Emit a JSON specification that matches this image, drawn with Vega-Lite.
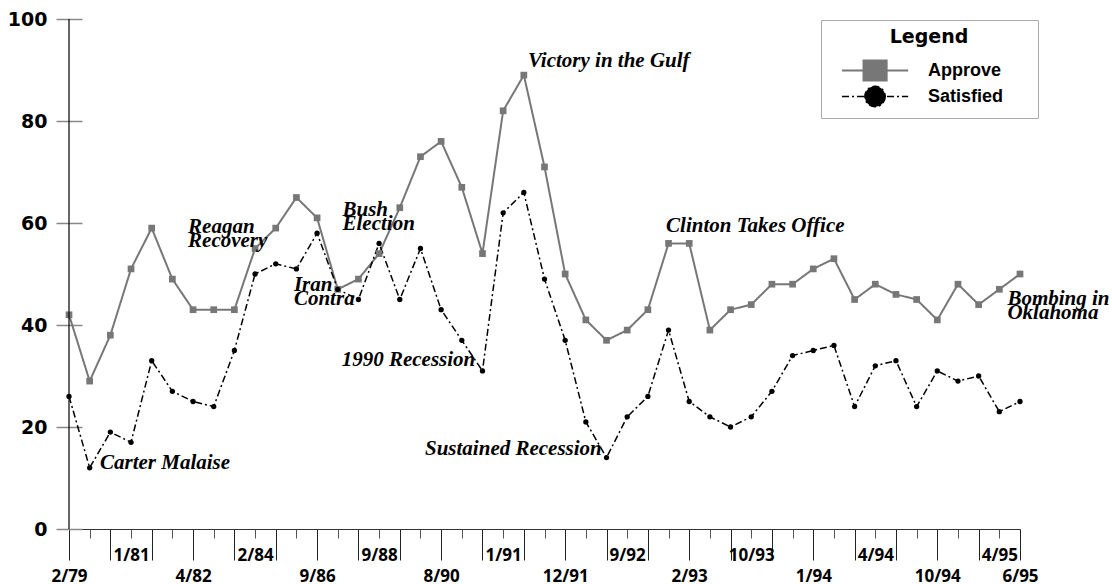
{
  "$schema": "https://vega.github.io/schema/vega-lite/v6.json",
  "width": 951,
  "height": 510,
  "autosize": {"type": "none"},
  "padding": {"left": 69, "top": 19, "right": 92, "bottom": 55},
  "background": "white",
  "config": {"view": {"stroke": null}, "axis": {"grid": false}},
  "resolve": {"axis": {"x": "independent", "y": "independent"}},
  "datasets": {
    "series": [
      {"i":0,"s":"Approve","v":42},{"i":1,"s":"Approve","v":29},{"i":2,"s":"Approve","v":38},{"i":3,"s":"Approve","v":51},{"i":4,"s":"Approve","v":59},{"i":5,"s":"Approve","v":49},{"i":6,"s":"Approve","v":43},{"i":7,"s":"Approve","v":43},{"i":8,"s":"Approve","v":43},{"i":9,"s":"Approve","v":55},{"i":10,"s":"Approve","v":59},{"i":11,"s":"Approve","v":65},{"i":12,"s":"Approve","v":61},{"i":13,"s":"Approve","v":47},{"i":14,"s":"Approve","v":49},{"i":15,"s":"Approve","v":54},{"i":16,"s":"Approve","v":63},{"i":17,"s":"Approve","v":73},{"i":18,"s":"Approve","v":76},{"i":19,"s":"Approve","v":67},{"i":20,"s":"Approve","v":54},{"i":21,"s":"Approve","v":82},{"i":22,"s":"Approve","v":89},{"i":23,"s":"Approve","v":71},{"i":24,"s":"Approve","v":50},{"i":25,"s":"Approve","v":41},{"i":26,"s":"Approve","v":37},{"i":27,"s":"Approve","v":39},{"i":28,"s":"Approve","v":43},{"i":29,"s":"Approve","v":56},{"i":30,"s":"Approve","v":56},{"i":31,"s":"Approve","v":39},{"i":32,"s":"Approve","v":43},{"i":33,"s":"Approve","v":44},{"i":34,"s":"Approve","v":48},{"i":35,"s":"Approve","v":48},{"i":36,"s":"Approve","v":51},{"i":37,"s":"Approve","v":53},{"i":38,"s":"Approve","v":45},{"i":39,"s":"Approve","v":48},{"i":40,"s":"Approve","v":46},{"i":41,"s":"Approve","v":45},{"i":42,"s":"Approve","v":41},{"i":43,"s":"Approve","v":48},{"i":44,"s":"Approve","v":44},{"i":45,"s":"Approve","v":47},{"i":46,"s":"Approve","v":50},
      {"i":0,"s":"Satisfied","v":26},{"i":1,"s":"Satisfied","v":12},{"i":2,"s":"Satisfied","v":19},{"i":3,"s":"Satisfied","v":17},{"i":4,"s":"Satisfied","v":33},{"i":5,"s":"Satisfied","v":27},{"i":6,"s":"Satisfied","v":25},{"i":7,"s":"Satisfied","v":24},{"i":8,"s":"Satisfied","v":35},{"i":9,"s":"Satisfied","v":50},{"i":10,"s":"Satisfied","v":52},{"i":11,"s":"Satisfied","v":51},{"i":12,"s":"Satisfied","v":58},{"i":13,"s":"Satisfied","v":47},{"i":14,"s":"Satisfied","v":45},{"i":15,"s":"Satisfied","v":56},{"i":16,"s":"Satisfied","v":45},{"i":17,"s":"Satisfied","v":55},{"i":18,"s":"Satisfied","v":43},{"i":19,"s":"Satisfied","v":37},{"i":20,"s":"Satisfied","v":31},{"i":21,"s":"Satisfied","v":62},{"i":22,"s":"Satisfied","v":66},{"i":23,"s":"Satisfied","v":49},{"i":24,"s":"Satisfied","v":37},{"i":25,"s":"Satisfied","v":21},{"i":26,"s":"Satisfied","v":14},{"i":27,"s":"Satisfied","v":22},{"i":28,"s":"Satisfied","v":26},{"i":29,"s":"Satisfied","v":39},{"i":30,"s":"Satisfied","v":25},{"i":31,"s":"Satisfied","v":22},{"i":32,"s":"Satisfied","v":20},{"i":33,"s":"Satisfied","v":22},{"i":34,"s":"Satisfied","v":27},{"i":35,"s":"Satisfied","v":34},{"i":36,"s":"Satisfied","v":35},{"i":37,"s":"Satisfied","v":36},{"i":38,"s":"Satisfied","v":24},{"i":39,"s":"Satisfied","v":32},{"i":40,"s":"Satisfied","v":33},{"i":41,"s":"Satisfied","v":24},{"i":42,"s":"Satisfied","v":31},{"i":43,"s":"Satisfied","v":29},{"i":44,"s":"Satisfied","v":30},{"i":45,"s":"Satisfied","v":23},{"i":46,"s":"Satisfied","v":25}
    ]
  },
  "layer": [
    {
      "data": {"name": "series"},
      "mark": {"type": "line"},
      "encoding": {
        "x": {"field": "i", "type": "quantitative",
          "scale": {"domain": [0, 46], "nice": false, "zero": false},
          "axis": {"orient": "bottom", "title": null, "grid": false,
            "values": [0,2,4,6,8,10,12,14,16,18,20,22,24,26,28,30,32,34,36,38,40,42,44,46],
            "tickSize": 31, "tickColor": "#222", "tickWidth": 1, "domainColor": "#333",
            "labelExpr": "datum.value % 6 === 0 ? ['2/79','4/82','9/86','8/90','12/91','2/93','1/94','10/94'][datum.value/6] : (datum.value === 46 ? '6/95' : '')",
            "labelFont": "Open Sans", "labelFontSize": 17, "labelFontWeight": "bold", "labelColor": "black",
            "labelPadding": 8, "labelOverlap": false, "labelFlush": false, "labelBound": false}},
        "y": {"field": "v", "type": "quantitative",
          "scale": {"domain": [0, 100], "nice": false},
          "axis": {"orient": "left", "title": null, "grid": false, "values": [0,20,40,60,80,100], "domain": false,
            "tickSize": 26, "offset": -13, "tickColor": "#888", "tickWidth": 1.5,
            "labelFont": "DejaVu Sans", "labelFontSize": 19, "labelFontWeight": "bold", "labelColor": "black", "labelPadding": 9}},
        "color": {"field": "s", "type": "nominal",
          "scale": {"domain": ["Approve", "Satisfied"], "range": ["#777777", "#000000"]},
          "legend": {
            "orient": "none", "legendX": 752, "legendY": 1,
            "title": "Legend", "titleFont": "DejaVu Sans", "titleFontSize": 19, "titleFontWeight": "bold", "titleColor": "black",
            "titleAnchor": "middle", "titlePadding": 12,
            "labelFont": "Liberation Sans", "labelFontSize": 18, "labelFontWeight": "bold", "labelColor": "black",
            "labelExpr": "datum.label + '\u2800\u2800'",
            "symbolSize": 256, "symbolOffset": 12, "labelOffset": 64, "rowPadding": -7,
            "padding": 8, "strokeColor": "#aaaaaa",
            "encode": {"symbols": {"update": {
              "size": {"value": 441},
              "shape": {"signal": "datum.value === 'Approve' ? 'M-1,0H5.3M1.05,-0.95H3.25V0.95H1.05Z' : 'M-1,0H5.3M3.12,0C3.12,0.536,2.686,0.97,2.15,0.97C1.614,0.97,1.18,0.536,1.18,0C1.18,-0.536,1.614,-0.97,2.15,-0.97C2.686,-0.97,3.12,-0.536,3.12,0Z'"},
              "fill": {"signal": "datum.value === 'Approve' ? '#777777' : '#000000'"},
              "strokeWidth": {"signal": "datum.value === 'Approve' ? 2 : 1.5"},
              "strokeDash": {"signal": "datum.value === 'Approve' ? [1,0] : [5,3,2,3]"},
              "opacity": {"value": 1}, "fillOpacity": {"value": 1}, "strokeOpacity": {"value": 1}
            }}}
          }},
        "strokeDash": {"field": "s", "type": "nominal",
          "scale": {"domain": ["Approve", "Satisfied"], "range": [[1, 0], [7, 3, 2, 3]]},
          "legend": null},
        "strokeWidth": {"field": "s", "type": "nominal",
          "scale": {"domain": ["Approve", "Satisfied"], "range": [2, 1.5]},
          "legend": null}
      }
    },
    {
      "data": {"name": "series"},
      "transform": [{"filter": "datum.s === 'Approve'"}],
      "mark": {"type": "point", "filled": true, "opacity": 1, "shape": "square", "size": 45, "color": "#777777"},
      "encoding": {
        "x": {"field": "i", "type": "quantitative",
          "scale": {"domain": [0, 46], "nice": false, "zero": false},
          "axis": {"orient": "bottom", "title": null, "grid": false, "domain": false,
            "values": [1,3,5,7,9,11,13,15,17,19,21,23,25,27,29,31,33,35,37,39,41,43,45],
            "tickSize": 9, "tickColor": "#555", "tickWidth": 1,
            "labelExpr": "(datum.value - 3) % 6 === 0 ? ['1/81','2/84','9/88','1/91','9/92','10/93','4/94','4/95'][(datum.value - 3)/6] : ''",
            "labelFont": "Open Sans", "labelFontSize": 17, "labelFontWeight": "bold", "labelColor": "black",
            "labelPadding": 9, "labelOverlap": false, "labelFlush": false, "labelBound": false}},
        "y": {"field": "v", "type": "quantitative", "scale": {"domain": [0, 100], "nice": false}, "axis": null}
      }
    },
    {
      "data": {"name": "series"},
      "transform": [{"filter": "datum.s === 'Satisfied'"}],
      "mark": {"type": "point", "filled": true, "opacity": 1, "shape": "circle", "size": 28, "color": "#000000"},
      "encoding": {
        "x": {"field": "i", "type": "quantitative", "axis": null},
        "y": {"field": "v", "type": "quantitative", "axis": null}
      }
    },
    {
      "data": {"values": [
        {"label": "Carter Malaise", "x": 1.5, "y": 11.7},
        {"label": "Reagan\nRecovery", "x": 5.76, "y": 58.1},
        {"label": "Iran\nContra", "x": 10.88, "y": 46.6},
        {"label": "Bush\nElection", "x": 13.23, "y": 61.3},
        {"label": "Victory in the Gulf", "x": 22.2, "y": 90.5},
        {"label": "1990 Recession", "x": 13.19, "y": 32.0},
        {"label": "Sustained Recession", "x": 17.22, "y": 14.6},
        {"label": "Clinton Takes Office", "x": 28.88, "y": 58.2},
        {"label": "Bombing in\nOklahoma", "x": 45.39, "y": 44.0}
      ]},
      "mark": {"type": "text", "font": "Liberation Serif", "fontSize": 21, "fontWeight": "bold", "fontStyle": "italic",
        "align": "left", "baseline": "alphabetic", "lineBreak": "\n", "lineHeight": 14, "color": "black"},
      "encoding": {
        "x": {"field": "x", "type": "quantitative", "axis": null},
        "y": {"field": "y", "type": "quantitative", "axis": null},
        "text": {"field": "label", "type": "nominal"}
      }
    },
    {
      "data": {"values": [{}]},
      "mark": {"type": "rule", "color": "black", "strokeWidth": 1.2},
      "encoding": {
        "x": {"datum": 0, "type": "quantitative", "axis": null},
        "y": {"datum": 0, "type": "quantitative", "axis": null},
        "y2": {"datum": 100}
      }
    }
  ]
}
